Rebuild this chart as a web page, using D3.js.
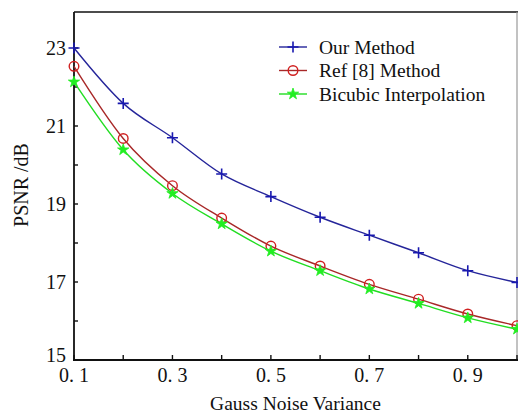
<!DOCTYPE html>
<html><head><meta charset="utf-8">
<script src="https://cdn.jsdelivr.net/npm/d3@7"></script>
<style>
html,body{margin:0;padding:0;background:#fff;}
svg{display:block;font-family:"Liberation Serif","Times New Roman",serif;}
</style></head>
<body><svg id="c" width="518" height="413"></svg>
<script>
const xValues = [0.1,0.2,0.3,0.4,0.5,0.6,0.7,0.8,0.9,1.0];
const ourMethod = [23.0,21.58,20.70,19.77,19.19,18.66,18.20,17.75,17.29,16.99];
const ref8Method = [22.53,20.68,19.47,18.64,17.92,17.41,16.94,16.56,16.18,15.88];
const bicubic = [22.13,20.39,19.27,18.49,17.79,17.29,16.82,16.45,16.08,15.79];
const seriesNames = ["Our Method","Ref [8] Method","Bicubic Interpolation"];
const xTickLabels = ["0. 1","0. 3","0. 5","0. 7","0. 9"];
const xTickValues = [0.1,0.3,0.5,0.7,0.9];
const yTickLabels = ["15","17","19","21","23"];
const yTickValues = [15,17,19,21,23];

const svg = d3.select("#c");
const L=74, R=517, T=12, B=360;
const x = d3.scaleLinear().domain([0.1,1.0]).range([L,R]);
const y = d3.scaleLinear().domain([15,23]).range([B,48]);

// frame
svg.append("line").attr("x1",L).attr("x2",R+1).attr("y1",T).attr("y2",T).attr("stroke","#111").attr("stroke-width",1.6);
svg.append("line").attr("x1",R).attr("x2",R).attr("y1",T).attr("y2",B).attr("stroke","#999").attr("stroke-width",1.2);
svg.append("line").attr("x1",L).attr("x2",L).attr("y1",T).attr("y2",B+1).attr("stroke","#111").attr("stroke-width",1.8);
svg.append("line").attr("x1",L-1).attr("x2",R+1).attr("y1",B).attr("y2",B).attr("stroke","#111").attr("stroke-width",1.8);

// ticks (inward)
const xMinor = d3.range(0.1,1.0001,0.1);
svg.selectAll(".xt").data(xMinor).enter().append("line")
  .attr("x1",d=>x(d)).attr("x2",d=>x(d)).attr("y1",B).attr("y2",B-5)
  .attr("stroke","#111").attr("stroke-width",1.4);
const yMinor = d3.range(15,23.5,1);
svg.selectAll(".yt").data(yMinor).enter().append("line")
  .attr("x1",L).attr("x2",L+4).attr("y1",d=>y(d)).attr("y2",d=>y(d))
  .attr("stroke","#111").attr("stroke-width",1.4);

// tick labels
svg.selectAll(".xl").data(xTickValues).enter().append("text")
  .attr("x",d=>x(d)).attr("y",382).attr("text-anchor","middle")
  .attr("font-size",20).attr("fill","#111").text((d,i)=>xTickLabels[i]);
svg.selectAll(".yl").data(yTickValues).enter().append("text")
  .attr("x",66).attr("y",d=>d===15?y(d)+2:y(d)+7).attr("text-anchor","end")
  .attr("font-size",20).attr("fill","#111").text((d,i)=>yTickLabels[i]);

// axis titles
svg.append("text").attr("x",(L+R)/2).attr("y",410).attr("text-anchor","middle")
  .attr("font-size",19.5).attr("fill","#111").text("Gauss Noise Variance");
svg.append("text").attr("transform",`translate(27.5,185) rotate(-90)`)
  .attr("text-anchor","middle").attr("font-size",20).attr("fill","#111").text("PSNR /dB");

const series = [
  {name:seriesNames[0], vals:ourMethod, line:"#25259a", mark:"plus", mcol:"#1818b0"},
  {name:seriesNames[1], vals:ref8Method, line:"#a82828", mark:"circle", mcol:"#d02020"},
  {name:seriesNames[2], vals:bicubic, line:"#22dd22", mark:"star", mcol:"#22ee22"}
];
const lineGen = d3.line().x(d=>x(d[0])).y(d=>y(d[1])).curve(d3.curveMonotoneX);

function drawMarker(g, type, col, cx, cy){
  if(type==="plus"){
    g.append("path").attr("d",`M${cx-5.5},${cy}H${cx+5.5}M${cx},${cy-5.5}V${cy+5.5}`)
      .attr("stroke",col).attr("stroke-width",1.6).attr("fill","none");
  } else if(type==="circle"){
    g.append("circle").attr("cx",cx).attr("cy",cy).attr("r",4.8)
      .attr("stroke",col).attr("stroke-width",1.4).attr("fill","none");
  } else {
    g.append("path").attr("d",d3.symbol().type(d3.symbolStar).size(40)())
      .attr("transform",`translate(${cx},${cy})`)
      .attr("fill",col).attr("stroke",col).attr("stroke-width",0.8);
  }
}

series.forEach(s=>{
  const pts = xValues.map((v,i)=>[v,s.vals[i]]);
  svg.append("path").datum(pts).attr("d",lineGen)
    .attr("fill","none").attr("stroke",s.line).attr("stroke-width",1.4);
  const g = svg.append("g");
  pts.forEach(p=>drawMarker(g,s.mark,s.mcol,x(p[0]),y(p[1])));
});

// legend
const legY = [47,70.5,94];
series.forEach((s,i)=>{
  const g = svg.append("g");
  g.append("line").attr("x1",279).attr("x2",307).attr("y1",legY[i]).attr("y2",legY[i])
    .attr("stroke",s.line).attr("stroke-width",1.4);
  drawMarker(g,s.mark,s.mcol,293,legY[i]);
  g.append("text").attr("x",319).attr("y",legY[i]+6.5).attr("font-size",19.5)
    .attr("fill","#111").text(s.name);
});
</script></body></html>
